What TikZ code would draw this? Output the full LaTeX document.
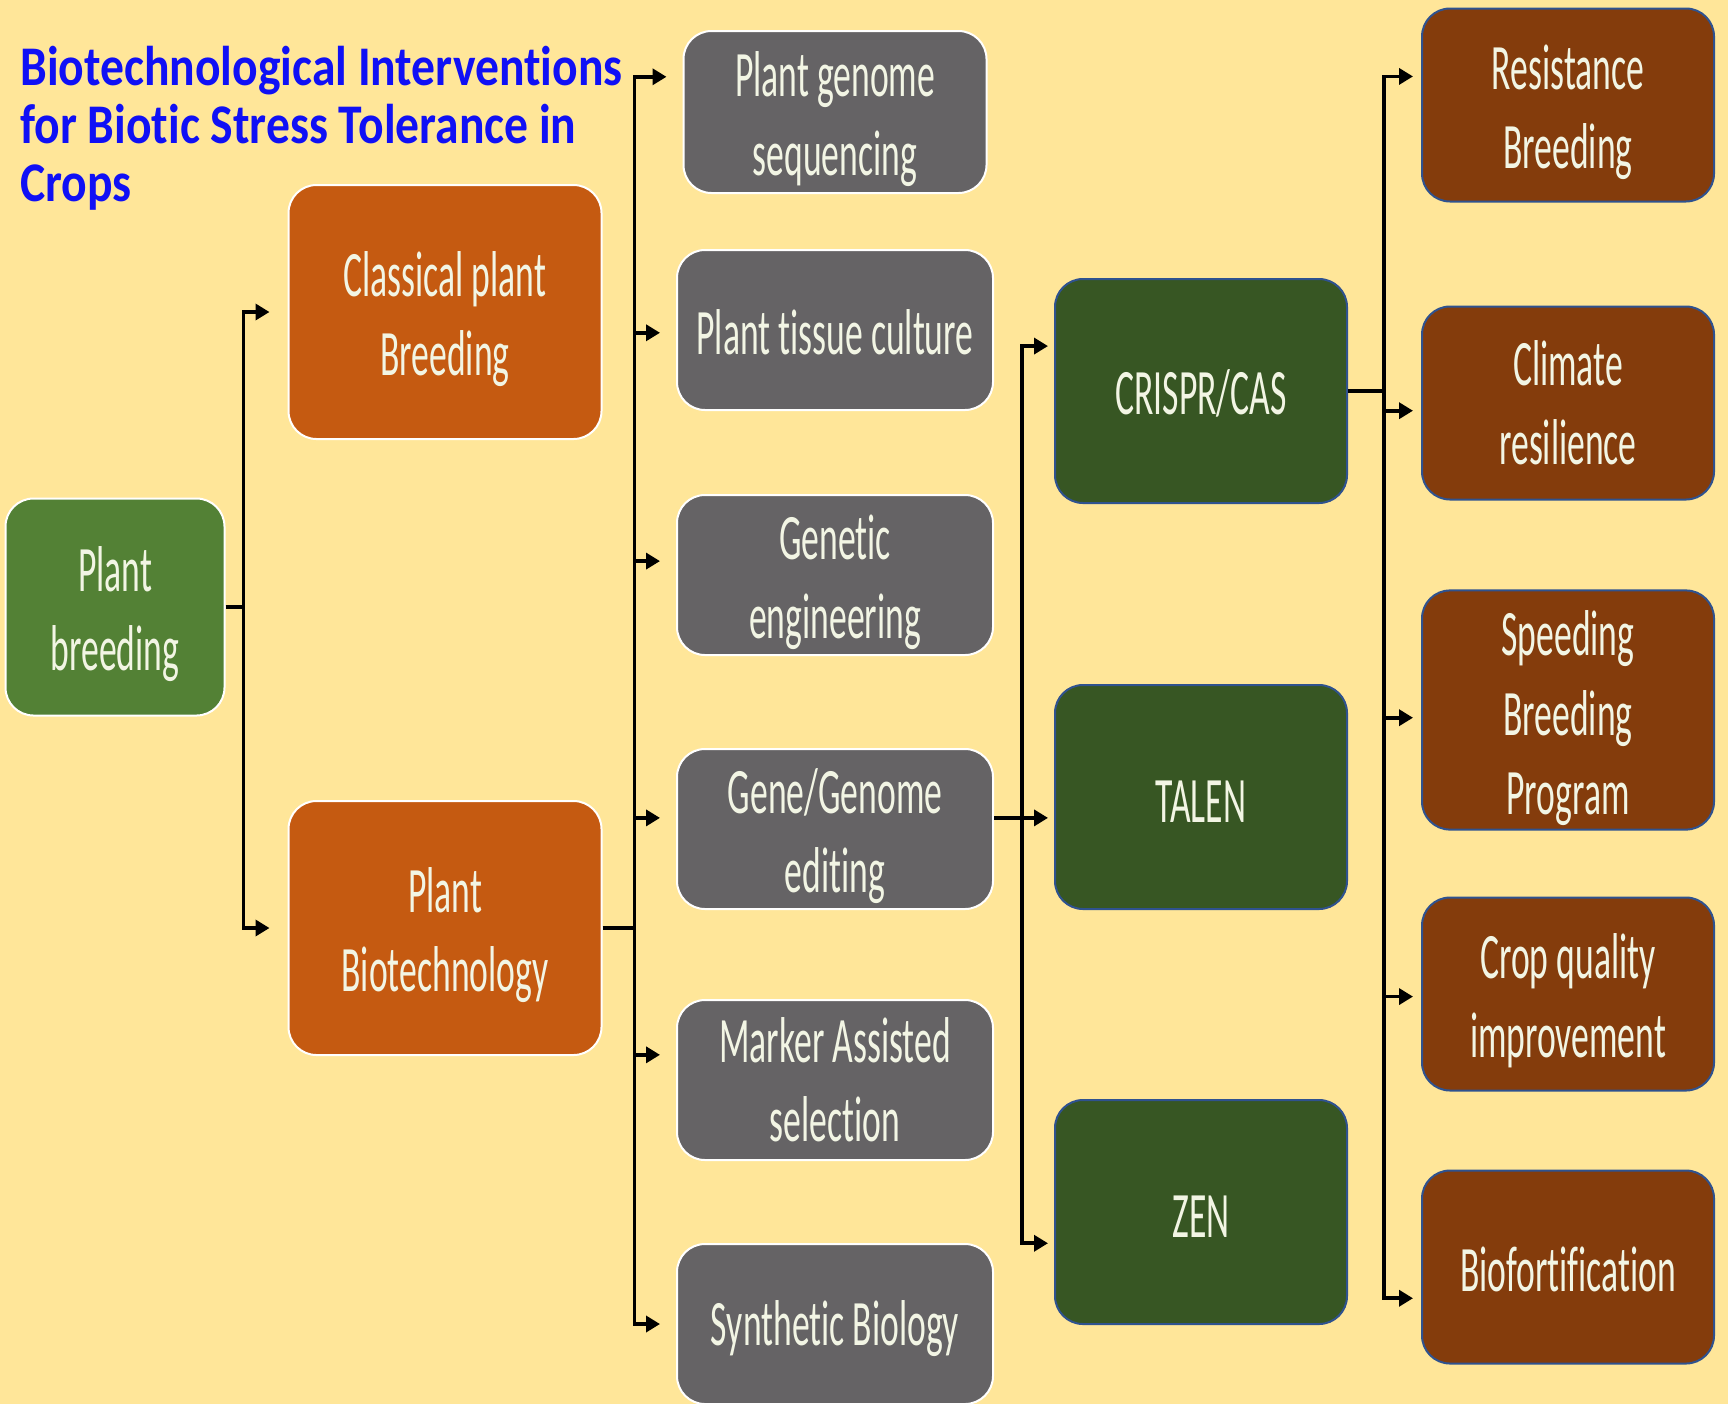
\documentclass[tikz,border=0pt]{standalone}
\usepackage{fontspec}
\setmainfont{Carlito}[Ligatures=NoCommon]
\newfontfamily\boxfont[FakeStretch=0.55,Ligatures=NoCommon]{Carlito}
\newfontfamily\titlefont[FakeStretch=0.85,Ligatures=NoCommon]{Carlito}
\usetikzlibrary{arrows.meta}
\definecolor{bgyellow}{HTML}{FFE699}
\definecolor{leafgreen}{HTML}{538135}
\definecolor{burntorange}{HTML}{C55A11}
\definecolor{slategray}{HTML}{656365}
\definecolor{darkgreen}{HTML}{375623}
\definecolor{rustbrown}{HTML}{843C0C}
\definecolor{edgeblue}{HTML}{2F528F}
\definecolor{boxtext}{HTML}{F2F5E4}
\definecolor{titleblue}{HTML}{1010F5}
\newcommand{\boxraise}{69pt}

\begin{document}
\begin{tikzpicture}[x=0.5pt,y=-0.5pt,
                raise/.code={\def\boxraise{#1}},
                box/.style={rounded corners=14pt,align=center,text=boxtext,line width=1pt,inner sep=2pt,
                    font=\boxfont\fontsize{32.4}{39.7}\selectfont,raise=69pt,
                    execute at begin node={\rule{0pt}{\boxraise}}},
                rootbox/.style={box,fill=leafgreen,draw=white,minimum width=109.5pt,minimum height=108.5pt},
                branchbox/.style={box,fill=burntorange,draw=white,minimum width=156.5pt,minimum height=127pt},
                toolbox/.style={box,fill=slategray,draw=white,minimum width=158pt,minimum height=80pt},
                editbox/.style={box,fill=darkgreen,draw=edgeblue,minimum width=146pt,minimum height=112pt,raise=25pt},
                goalbox/.style={box,fill=rustbrown,draw=edgeblue,minimum width=146pt,minimum height=96.5pt},
                link/.style={line width=1.8pt},
                arr/.style={link,-{Triangle[length=7pt,width=8pt]},shorten >=#1},
                arr/.default=7pt]
                \useasboundingbox (0,0) rectangle (1728,1404);
                \fill[bgyellow] (0,0) rectangle (1728,1404);
                \node[anchor=north west,inner sep=0pt,align=left,text=titleblue,
                    font=\titlefont\bfseries\fontsize{28}{29}\selectfont] (title) at (20,46)
                    {Biotechnological Interventions\\for Biotic Stress Tolerance in\\Crops};
                \node[rootbox] (pb) at (115,607) {Plant\\breeding};
                \node[branchbox] (cpb) at (445,312) {Classical plant\\Breeding};
                \node[branchbox] (pbt) at (445,928) {Plant\\Biotechnology};
                \node[toolbox,minimum width=151.5pt,minimum height=81pt] (gs) at (835,112) {Plant genome\\sequencing};
                \node[toolbox,raise=25pt] (tc) at (835,330) {Plant tissue culture};
                \node[toolbox] (ge) at (835,575) {Genetic\\engineering};
                \node[toolbox] (ged) at (835,829) {Gene/Genome\\editing};
                \node[toolbox,raise=0pt] (mas) at (835,1080) {Marker Assisted\\selection};
                \node[toolbox,raise=27pt] (sb) at (835,1324) {Synthetic Biology};
                \node[editbox] (crispr) at (1201,391) {CRISPR/CAS};
                \node[editbox] (talen) at (1201,797) {TALEN};
                \node[editbox] (zen) at (1201,1212) {ZEN};
                \node[goalbox] (rb) at (1568,105) {Resistance\\Breeding};
                \node[goalbox,raise=0pt] (cr) at (1568,403) {Climate\\resilience};
                \node[goalbox,minimum height=108pt,raise=110pt] (sbp) at (1568,710) {Speeding\\Breeding\\Program};
                \node[goalbox] (cqi) at (1568,994) {Crop quality\\improvement};
                \node[goalbox,raise=25pt] (bf) at (1568,1267) {Biofortification};

                \draw[link] (pb.east) -- ++(18,0) coordinate (j1);
                \draw[arr=9pt] (j1) |- (cpb.west);
                \draw[arr=9pt] (j1) |- (pbt.west);

                \draw[link] (pbt.east) -- ++(32,0) coordinate (j2);
                \foreach \n/\a in {gs/167,tc/181,ge/175,ged/176,mas/171,sb/180}
                    \draw[arr=8pt] (j2) |- (\n.\a);

                \draw[arr=3pt] (ged.4) -- (ged.4 -| talen.west);
                \path (ged.4) -- ++(28,0) coordinate (j3);
                \draw[arr=3pt] (j3) |- (crispr.163);
                \draw[arr=3pt] (j3) |- (zen.192);

                \draw[link] (crispr.east) -- ++(36,0) coordinate (j4);
                \foreach \n/\a in {rb/169,cr/183,sbp/183,cqi/181,bf/192}
                    \draw[arr=4pt] (j4) |- (\n.\a);
            \end{tikzpicture}
\end{document}
